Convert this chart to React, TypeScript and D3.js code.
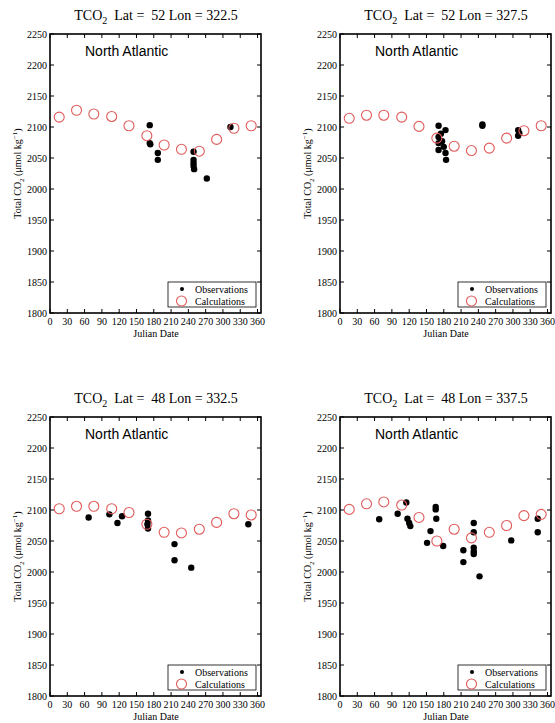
import React from 'react';
import * as d3 from 'd3';

// Mid-month Julian dates of the calculated values
const calcDays = [16, 46, 76, 107, 137, 168, 198, 228, 259, 289, 319, 349];

const calc1 = [2116, 2127, 2121, 2117, 2102, 2086, 2071, 2064, 2061, 2080, 2098, 2102];
const calc2 = [2114, 2119, 2119, 2116, 2101, 2082, 2069, 2062, 2066, 2082, 2094, 2102];
const calc3 = [2102, 2106, 2106, 2102, 2096, 2077, 2064, 2063, 2069, 2080, 2094, 2092];
const calc4 = [2101, 2110, 2113, 2108, 2088, 2050, 2069, 2055, 2064, 2075, 2091, 2093];

// Observations: [Julian date, TCO2]
const obs1: [number, number][] = [
  [173, 2103], [173, 2074], [174, 2072], [187, 2058], [187, 2047],
  [249, 2060], [249, 2047], [249, 2042], [249, 2037], [250, 2032],
  [272, 2017], [313, 2100],
];
const obs2: [number, number][] = [
  [171, 2102], [183, 2095], [175, 2089], [171, 2084], [177, 2077],
  [171, 2074], [180, 2068], [171, 2063], [183, 2058], [184, 2047],
  [247, 2104], [247, 2102], [309, 2095], [309, 2086], [311, 2090],
];
const obs3: [number, number][] = [
  [67, 2088], [103, 2093], [117, 2079], [125, 2090], [170, 2094],
  [170, 2083], [169, 2077], [170, 2070], [216, 2045], [216, 2019],
  [245, 2007], [344, 2077],
];
const obs4: [number, number][] = [
  [68, 2085], [100, 2094], [115, 2112], [117, 2086], [120, 2079],
  [122, 2074], [157, 2066], [151, 2047], [166, 2105], [166, 2101],
  [167, 2086], [179, 2042], [214, 2035], [214, 2016], [232, 2079],
  [232, 2064], [232, 2039], [232, 2033], [232, 2029], [242, 1993],
  [297, 2051], [343, 2086], [343, 2064],
];

const lats = ['52', '52', '48', '48'];
const lons = ['322.5', '327.5', '332.5', '337.5'];
const regionName = 'North Atlantic';

const xTicks = [0, 30, 60, 90, 120, 150, 180, 210, 240, 270, 300, 330, 360];
const yTicks = [1800, 1850, 1900, 1950, 2000, 2050, 2100, 2150, 2200, 2250];

const SERIF = "'Liberation Serif', 'DejaVu Serif', serif";
const SANS = "'Liberation Sans', Arial, sans-serif";
const RED = '#e05a5a';

// layout (positions only)
const origins: [number, number][] = [
  [50, 34],
  [340, 34],
  [50, 417],
  [340, 417],
];
const W = 211;
const H = 279;

function Panel({ ox, oy, lat, lon, calc, obs }: {
  ox: number; oy: number; lat: string; lon: string; calc: number[]; obs: [number, number][];
}) {
  const x = d3.scaleLinear().domain([0, 366]).range([ox, ox + W]);
  const y = d3.scaleLinear().domain([1800, 2250]).range([oy + H, oy]);
  const tl = 4;
  return (
    <g>
      {/* title */}
      <text x={ox + 106} y={oy - 14} textAnchor="middle" fontFamily={SERIF} fontSize={14}
        style={{ whiteSpace: 'pre' }}>
        <tspan>TCO</tspan>
        <tspan fontSize={10} dy={4}>2</tspan>
        <tspan dy={-4}>{`  Lat =  ${lat} Lon = ${lon}`}</tspan>
      </text>

      {/* ticks */}
      {xTicks.map((t) => (
        <g key={'x' + t}>
          <line x1={x(t)} x2={x(t)} y1={y(1800)} y2={y(1800) - tl} stroke="#000" strokeWidth={1} />
          <line x1={x(t)} x2={x(t)} y1={y(2250)} y2={y(2250) + tl} stroke="#000" strokeWidth={1} />
          <text x={x(t)} y={oy + H + 12} textAnchor="middle" fontFamily={SERIF} fontSize={10}>{t}</text>
        </g>
      ))}
      {yTicks.map((t) => (
        <g key={'y' + t}>
          <line x1={ox} x2={ox + tl} y1={y(t)} y2={y(t)} stroke="#000" strokeWidth={1} />
          <line x1={ox + W} x2={ox + W - tl} y1={y(t)} y2={y(t)} stroke="#000" strokeWidth={1} />
          <text x={ox - 3} y={y(t)} dy="0.35em" textAnchor="end" fontFamily={SERIF} fontSize={10}>{t}</text>
        </g>
      ))}

      {/* axis labels */}
      <text x={ox + 106} y={oy + H + 24} textAnchor="middle" fontFamily={SERIF} fontSize={10}>Julian Date</text>
      <text transform={`translate(${ox - 29},${oy + H / 2}) rotate(-90)`} textAnchor="middle"
        fontFamily={SERIF} fontSize={10} style={{ whiteSpace: 'pre' }}>
        <tspan>Total CO</tspan>
        <tspan fontSize={7} dy={3}>2</tspan>
        <tspan dy={-3}> (μmol kg</tspan>
        <tspan fontSize={7} dy={-4}>−1</tspan>
        <tspan dy={4}>)</tspan>
      </text>

      {/* region name */}
      <text x={ox + 35} y={oy + 22} fontFamily={SANS} fontSize={14}>{regionName}</text>

      {/* observations */}
      {obs.map(([d, v], i) => (
        <circle key={'o' + i} cx={x(d)} cy={y(v)} r={3.2} fill="#000" />
      ))}
      {/* calculations */}
      {calc.map((v, i) => (
        <circle key={'c' + i} cx={x(calcDays[i])} cy={y(v)} r={5} fill="none" stroke={RED} strokeWidth={1.1} />
      ))}

      {/* legend */}
      <rect x={ox + 118} y={oy + H - 31} width={88} height={25} fill="#fff" stroke="#000" strokeWidth={0.8} />
      <circle cx={ox + 132} cy={oy + H - 24} r={2} fill="#000" />
      <text x={ox + 145} y={oy + H - 20.5} fontFamily={SERIF} fontSize={10}>Observations</text>
      <circle cx={ox + 131.5} cy={oy + H - 12} r={5} fill="none" stroke={RED} strokeWidth={1.1} />
      <text x={ox + 145} y={oy + H - 8.5} fontFamily={SERIF} fontSize={10}>Calculations</text>

      {/* frame */}
      <rect x={ox} y={oy} width={W} height={H} fill="none" stroke="#000" strokeWidth={1.6} />
    </g>
  );
}

export default function App() {
  const calcs = [calc1, calc2, calc3, calc4];
  const obss = [obs1, obs2, obs3, obs4];
  return (
    <svg width={555} height={723} style={{ position: 'absolute', left: 0, top: 0, background: '#fff' }}>
      <rect width={555} height={723} fill="#fff" />
      {origins.map(([ox, oy], i) => (
        <Panel key={i} ox={ox} oy={oy} lat={lats[i]} lon={lons[i]} calc={calcs[i]} obs={obss[i]} />
      ))}
    </svg>
  );
}
